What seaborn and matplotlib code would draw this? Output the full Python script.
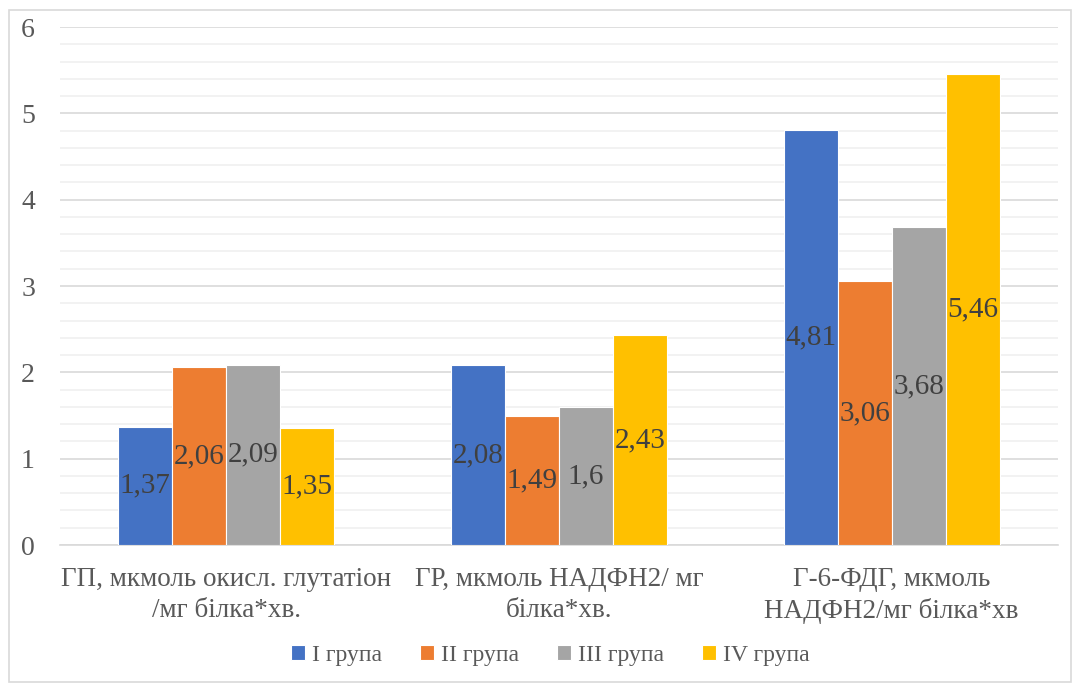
import pandas as pd
import numpy as np
import matplotlib.pyplot as plt
import seaborn as sns
from matplotlib.patches import Rectangle
from matplotlib.ticker import MultipleLocator

categories = ["ГП, мкмоль окисл. глутатіон\n/мг білка*хв.",
              "ГР, мкмоль НАДФН2/ мг\nбілка*хв.",
              "Г-6-ФДГ, мкмоль\nНАДФН2/мг білка*хв"]
groups = ["I група", "II група", "III група", "IV група"]
values_I = [1.37, 2.08, 4.81]
values_II = [2.06, 1.49, 3.06]
values_III = [2.09, 1.6, 3.68]
values_IV = [1.35, 2.43, 5.46]
colors = ["#4472c4", "#ed7d31", "#a5a5a5", "#ffc000"]

rows = []
for g, vals in zip(groups, [values_I, values_II, values_III, values_IV]):
    for c, v in zip(categories, vals):
        rows.append({"cat": c, "group": g, "val": v})
da = pd.DataFrame(rows)

sns.set_style("white")
plt.rcParams['font.family'] = ['Liberation Serif', 'DejaVu Serif']

fig = plt.figure(figsize=(10.73, 6.84), dpi=100)
ax = fig.add_axes([0.0559, 0.2032, 0.9301, 0.7573])
fig.patches.append(Rectangle((0.008, 0.003), 0.99, 0.982, transform=fig.transFigure,
                             fill=False, edgecolor="#d9d9d9", linewidth=1.2))

sns.barplot(data=da, x="cat", y="val", hue="group", palette=colors, width=0.65,
            gap=0, saturation=1, edgecolor="white", linewidth=0.8, ax=ax, zorder=3)

for cont in ax.containers:
    labs = [f"{b.get_height():g}".replace(".", ",") for b in cont]
    ax.bar_label(cont, labels=labs, label_type="center", fontsize=21, color="#404040")

ax.set_ylim(0, 6)
ax.set_xlim(-0.5, 2.5)
ax.yaxis.set_major_locator(MultipleLocator(1))
ax.yaxis.set_minor_locator(MultipleLocator(0.2))
ax.grid(axis="y", which="major", color="#d9d9d9", linewidth=1.2, zorder=0)
ax.grid(axis="y", which="minor", color="#f0f0f0", linewidth=1.2, zorder=0)
ax.set_axisbelow(True)

ax.set_xticks([-0.5, 0.5, 1.5, 2.5], minor=True)
ax.tick_params(axis="x", which="minor", length=8, color="#d9d9d9", width=1.2)
ax.tick_params(axis="x", which="major", length=0, pad=16, labelsize=19.5, labelcolor="#595959")
ax.tick_params(axis="y", which="both", length=0, pad=18, labelsize=20, labelcolor="#595959")
for t in ax.get_xticklabels():
    t.set_linespacing(1.3)

for s in ["left", "right", "top"]:
    ax.spines[s].set_visible(False)
ax.spines["bottom"].set_color("#d9d9d9")
ax.spines["bottom"].set_linewidth(1.2)

ax.set_xlabel("")
ax.set_ylabel("")
ax.legend(loc="center", bbox_to_anchor=(0.513, 0.042), bbox_transform=fig.transFigure,
          ncol=4, frameon=False, fontsize=17, labelcolor="#595959",
          handlelength=0.6, handleheight=0.6, handletextpad=0.3, columnspacing=1.6)

plt.savefig("out.png", dpi=100)
